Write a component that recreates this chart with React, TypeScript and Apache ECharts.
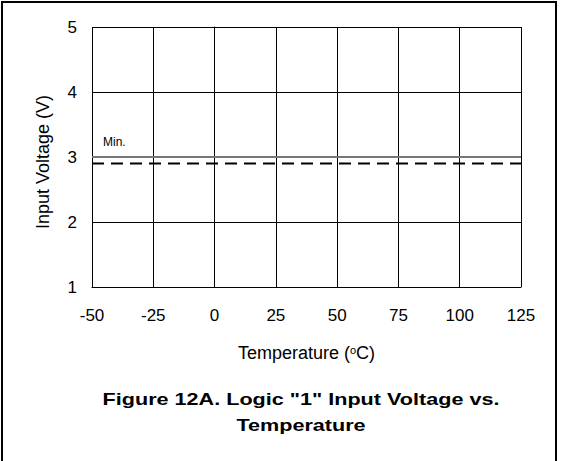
import React, { useEffect, useRef } from "react";
import * as echarts from "echarts";

const minTemps = [-50, 125];
const minVoltages = [2.9, 2.9];
const refLevel = 3;
const refLabel = "Min.";
const titleLines = ['Figure 12A. Logic "1" Input Voltage vs.', "Temperature"];

export default function App() {
  const ref = useRef<HTMLDivElement>(null);
  useEffect(() => {
    document.body.style.margin = "0";
    const chart = echarts.init(ref.current!, null, { renderer: "svg" });
    const font = "Liberation Sans, Arial, sans-serif";
    chart.setOption({
      animation: false,
      backgroundColor: "#ffffff",
      textStyle: { fontFamily: font },
      graphic: [
        {
          type: "rect",
          shape: { x: 2, y: 2, width: 554, height: 462 },
          style: { fill: "none", stroke: "#000", lineWidth: 2 },
          silent: true,
        },
        {
          type: "text",
          x: 301,
          y: 413,
          scaleX: 1.35,
          silent: true,
          style: {
            text: titleLines.join("\n"),
            align: "center",
            verticalAlign: "middle",
            fontFamily: font,
            fontSize: 16,
            fontWeight: "bold",
            fill: "#000",
            lineHeight: 26,
          },
        },
      ],
      grid: { left: 92, top: 27, width: 429, height: 260, show: false },
      xAxis: {
        type: "value",
        min: -50,
        max: 125,
        interval: 25,
        name: "Temperature ({s|o}C)",
        nameLocation: "middle",
        nameGap: 57,
        nameTextStyle: {
          fontFamily: font,
          fontSize: 18,
          color: "#000",
          rich: { s: { fontSize: 11, verticalAlign: "top", padding: [0, 0, 7, 0], fontFamily: font, color: "#000" } },
        },
        axisLine: { show: true, onZero: false, lineStyle: { color: "#000", width: 1 } },
        axisTick: { show: false },
        axisLabel: { margin: 20, fontSize: 17, color: "#000", fontFamily: font },
        splitLine: { show: true, lineStyle: { color: "#000", width: 1 } },
      },
      yAxis: {
        type: "value",
        min: 1,
        max: 5,
        interval: 1,
        name: "Input Voltage (V)",
        nameLocation: "middle",
        nameGap: 40,
        nameTextStyle: { fontFamily: font, fontSize: 18, color: "#000", padding: [0, 10, 0, 0] },
        axisLine: { show: true, lineStyle: { color: "#000", width: 1 } },
        axisTick: { show: false },
        axisLabel: { margin: 15, fontSize: 17, color: "#000", fontFamily: font },
        splitLine: { show: true, lineStyle: { color: "#000", width: 1 } },
      },
      series: [
        {
          type: "line",
          data: minTemps.map((t, i) => [t, minVoltages[i]]),
          showSymbol: false,
          symbol: "none",
          lineStyle: { color: "#000", width: 2, type: [12, 7] },
          markLine: {
            silent: true,
            symbol: "none",
            lineStyle: { color: "#777", width: 2, type: "solid" },
            label: {
              show: true,
              position: "insideStartTop",
              formatter: refLabel,
              fontSize: 12,
              color: "#000",
              fontFamily: font,
              distance: [11, 9],
            },
            data: [{ yAxis: refLevel }],
          },
        },
      ],
    });
    return () => chart.dispose();
  }, []);
  return <div ref={ref} style={{ width: 561, height: 461 }} />;
}
